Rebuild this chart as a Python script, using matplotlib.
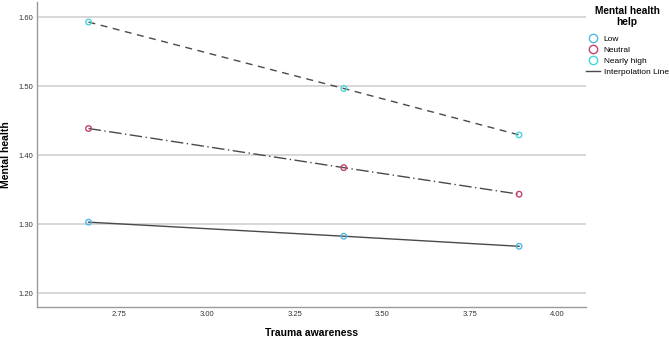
import matplotlib.pyplot as plt
from matplotlib.lines import Line2D

plt.rcParams['font.family'] = ['Liberation Sans', 'DejaVu Sans']

# values
trauma = [2.662, 3.39, 3.89]
low = [1.303, 1.2826, 1.268]
neutral = [1.4387, 1.382, 1.3435]
nearly_high = [1.593, 1.4967, 1.4294]
groups = ['Low', 'Neutral', 'Nearly high']
colors = ['#52b8e8', '#c8416a', '#47d8dc']
styles = ['-', (0, (9, 2.5, 1, 2.5)), (0, (5, 4))]

fig = plt.figure(figsize=(6.69, 3.40), dpi=100)
ax = fig.add_axes([0.0553, 0.097, 0.8207, 0.897])

for vals, col, ls in zip([low, neutral, nearly_high], colors, styles):
    ax.plot(trauma, vals, color='#4a4a4a', linestyle=ls, linewidth=1.0, zorder=2)
    ax.scatter(trauma, vals, s=16, facecolors='none', edgecolors=col, linewidths=1.0, zorder=3)

ax.set_xlim(2.515, 4.081)
ax.set_ylim(1.18, 1.622)
ax.set_xticks([2.75, 3.00, 3.25, 3.50, 3.75, 4.00])
ax.set_yticks([1.20, 1.30, 1.40, 1.50, 1.60])
ax.set_xticklabels(['2.75', '3.00', '3.25', '3.50', '3.75', '4.00'])
ax.set_yticklabels(['1.20', '1.30', '1.40', '1.50', '1.60'])
ax.tick_params(length=0, labelsize=5.5, colors='#333333', pad=3)
ax.yaxis.grid(True, color='#d4d4d4', linewidth=1.3)
ax.set_axisbelow(True)
for s in ['top', 'right']:
    ax.spines[s].set_visible(False)
for s in ['left', 'bottom']:
    ax.spines[s].set_color('#9a9a9a')
    ax.spines[s].set_linewidth(1.0)

ax.set_xlabel('Trauma awareness', fontsize=7.5, fontweight='bold', va='center')
ax.set_ylabel('Mental health', fontsize=7.5, fontweight='bold', va='center')
ax.xaxis.set_label_coords(0.5, -0.085)
ax.yaxis.set_label_coords(-0.057, 0.5)

handles = [Line2D([], [], marker='o', linestyle='none', markerfacecolor='none',
                  markeredgecolor=c, markersize=6, markeredgewidth=1.0) for c in colors]
handles.append(Line2D([], [], color='#4a4a4a', linewidth=1.0))
leg = fig.legend(handles, groups + ['Interpolation Line'], title='Mental health\nhelp',
                 loc='upper left', bbox_to_anchor=(585 / 669, 1 - 5 / 340), frameon=False,
                 fontsize=6.0, handlelength=1.7, handletextpad=0.42, labelspacing=0.38,
                 borderpad=0.1, borderaxespad=0)
title = leg.get_title()
title.set_fontweight('bold')
title.set_fontsize(7.3)
title.set_linespacing(1.15)
title.set_multialignment('center')
leg._legend_box.align = 'center'
leg._legend_box.sep = 6

fig.savefig('out.png', dpi=100)
